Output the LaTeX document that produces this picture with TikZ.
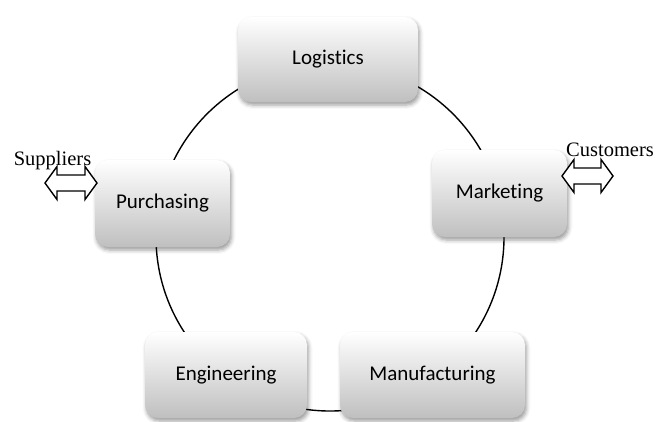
\documentclass[tikz,border=0pt]{standalone}
\usepackage{fontspec}
\setmainfont{Carlito}[Ligatures=NoCommon]
\newfontfamily\serifface{Liberation Serif}
\usetikzlibrary{shadows.blur,calc}

\tikzset{
  unit/.style={
    rounded corners=13pt, inner sep=0pt,
    top color=white, bottom color=black!25,
    blur shadow={shadow xshift=1.5pt, shadow yshift=-3pt,
                 shadow blur radius=4pt, shadow opacity=40},
    font=\fontsize{21}{25}\selectfont, text=black
  },
  cycle line/.style={line width=1.4pt, black},
  partner/.style={font=\serifface\fontsize{20.5}{24}\selectfont, anchor=base, inner sep=0pt},
  exchange/.style={draw=black, line width=1.4pt, fill=white, line join=miter}
}

% two-way arrow: #1 centre, #2 half length, #3 half head height,
% #4 half shaft height, #5 head length
\newcommand{\twoway}[5]{%
  \draw[exchange] ($(#1)+(-#2,0)$) -- ++(#5,-#3) -- ++(0,#3-#4)
    -- ($(#1)+(#2-#5,-#4)$) -- ++(0,#4-#3) -- ($(#1)+(#2,0)$)
    -- ++(-#5,#3) -- ++(0,#4-#3) -- ($(#1)+(-#2+#5,#4)$)
    -- ++(0,#3-#4) -- cycle;}

\begin{document}
\begin{tikzpicture}[x=1pt, y=-1pt]
  \useasboundingbox (0,0) rectangle (668,421);

  % the cycle linking the five functions
  \coordinate (hub) at (330,237);
  \draw[cycle line] (hub) circle[radius=174pt];

  % functions
  \node[unit, minimum width=180pt, minimum height=85pt] (log) at (328,59.5) {Logistics};
  \node[unit, minimum width=135pt, minimum height=87pt] (mkt) at (499.5,193.5) {Marketing};
  \node[unit, minimum width=135pt, minimum height=87pt] (pur) at (162.5,203.5) {Purchasing};
  \node[unit, minimum width=162pt, minimum height=86pt] (eng) at (226,375) {Engineering};
  \node[unit, minimum width=185pt, minimum height=86pt] (man) at (432.5,375) {Manufacturing};

  % external partners
  \coordinate (supx) at (71,183);
  \coordinate (cusx) at (587.5,176);
  \twoway{supx}{26}{16.5}{8}{12}
  \twoway{cusx}{25.5}{16.5}{8}{12}
  \node[partner] (sup) at (52.5,165) {Suppliers};
  \node[partner] (cus) at (610,156) {Customers};
\end{tikzpicture}
\end{document}
